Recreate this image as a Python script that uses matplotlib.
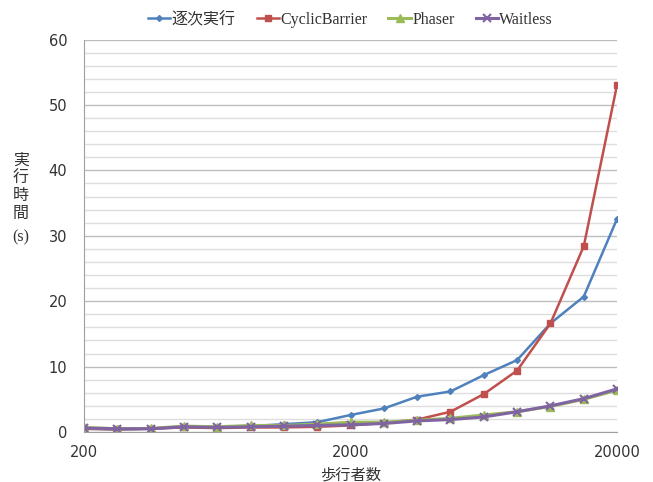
import matplotlib.pyplot as plt
from matplotlib.ticker import FixedLocator, NullLocator, MultipleLocator

plt.rcParams['font.family'] = ['DejaVu Sans', 'Noto Sans CJK JP']

walkers = [200, 267, 356, 474, 632, 843, 1125, 1500, 2000,
           2667, 3557, 4743, 6325, 8434, 11247, 14998, 20000]

sequential = [0.5, 0.4, 0.5, 0.8, 0.8, 0.9, 1.2, 1.5, 2.6,
              3.6, 5.4, 6.2, 8.7, 11.0, 16.6, 20.7, 32.6]
cyclic_barrier = [0.5, 0.4, 0.5, 0.7, 0.6, 0.7, 0.7, 0.8, 1.0,
                  1.4, 1.9, 3.1, 5.8, 9.4, 16.6, 28.4, 53.1]
phaser = [0.7, 0.5, 0.55, 0.9, 0.8, 1.0, 1.0, 1.2, 1.5,
          1.5, 1.8, 2.1, 2.6, 3.1, 3.9, 5.0, 6.4]
waitless = [0.6, 0.5, 0.5, 0.8, 0.7, 0.8, 0.9, 1.0, 1.1,
            1.3, 1.7, 1.9, 2.3, 3.1, 4.0, 5.1, 6.6]

series_names = ['逐次実行', 'CyclicBarrier', 'Phaser', 'Waitless']

fig = plt.figure(figsize=(6.53, 4.82), dpi=100)
ax = fig.add_axes([0.1286, 0.1037, 0.8164, 0.8143])

ax.plot(walkers, sequential, color='#4F81BD', lw=1.8, marker='D', ms=3,
        label=series_names[0])
ax.plot(walkers, cyclic_barrier, color='#C0504D', lw=1.8, marker='s', ms=4,
        label=series_names[1])
ax.plot(walkers, phaser, color='#9BBB59', lw=2.2, marker='^', ms=6,
        label=series_names[2])
ax.plot(walkers, waitless, color='#8064A2', lw=2.2, marker='x', ms=6, mew=1.5,
        label=series_names[3])

ax.set_xscale('log')
ax.set_xlim(200, 20000)
ax.set_ylim(0, 60)
ax.xaxis.set_major_locator(FixedLocator([200, 2000, 20000]))
ax.xaxis.set_minor_locator(NullLocator())
ax.set_xticklabels(['200', '2000', '20000'])
ax.yaxis.set_major_locator(MultipleLocator(10))
ax.yaxis.set_minor_locator(MultipleLocator(2))

ax.grid(axis='y', which='major', color='#BDBDBD', lw=1.0)
ax.grid(axis='y', which='minor', color='#DEDEDE', lw=1.0)
ax.set_axisbelow(True)

for side in ['top', 'right']:
    ax.spines[side].set_visible(False)
ax.spines['left'].set_color('#A0A0A0')
ax.spines['bottom'].set_color('#A0A0A0')
ax.tick_params(axis='both', which='both', length=0, labelsize=10.5,
               colors='#333333')
ax.tick_params(axis='y', pad=12)
ax.tick_params(axis='x', pad=9)

ax.set_xlabel('歩行者数', fontsize=11, color='#333333', labelpad=5,
              family=['Noto Sans CJK JP'])

# vertical axis title: stacked kanji, then the unit in a serif face
fig.text(0.032, 0.612, '実\n行\n時\n間', ha='center', va='center',
         fontsize=11.5, color='#333333', linespacing=1.05,
         family=['Noto Sans CJK JP'])
fig.text(0.032, 0.508, '(s)', ha='center', va='center',
         fontsize=11.5, color='#333333', family=['Liberation Serif'])

leg = ax.legend(loc='lower center', bbox_to_anchor=(0.5, 1.005), ncol=4,
                frameon=False, handlelength=1.4, handletextpad=0.1,
                columnspacing=1.3, borderaxespad=0.2,
                prop={'family': ['Liberation Serif', 'Noto Sans CJK JP'],
                      'size': 11.5})
for t in leg.get_texts():
    t.set_color('#333333')

fig.savefig('out.png', dpi=100)
